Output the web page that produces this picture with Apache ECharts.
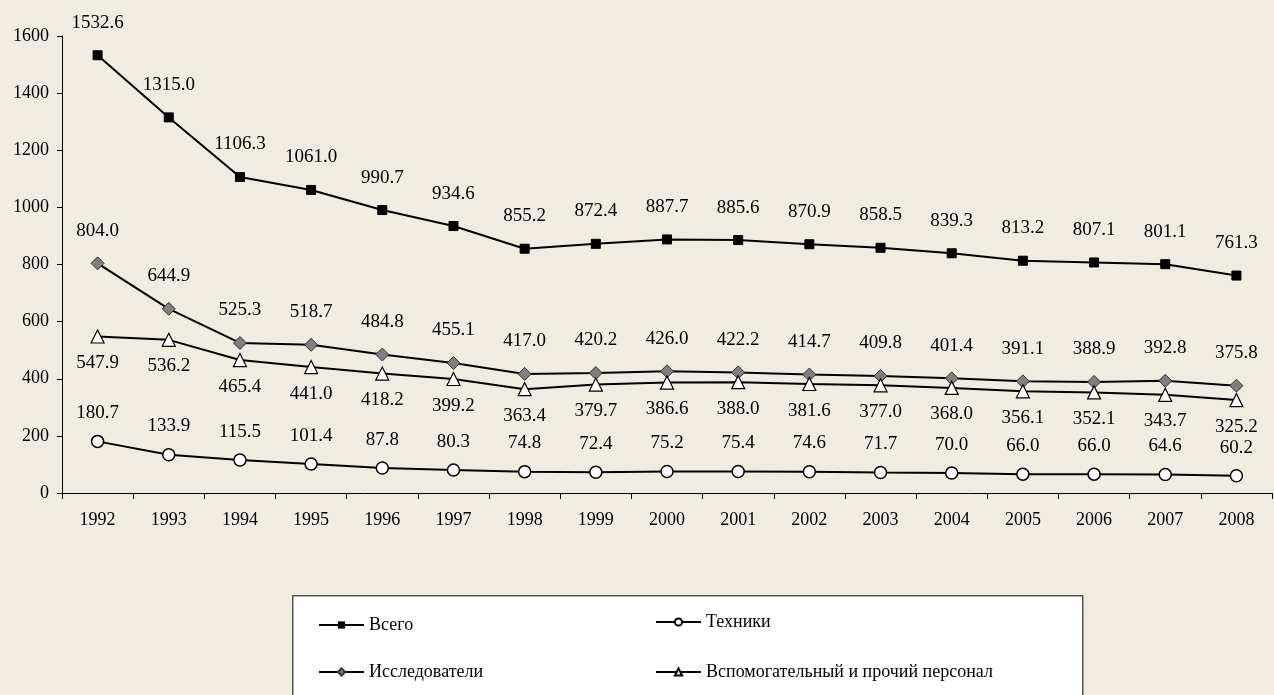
<!DOCTYPE html>
<html>
<head>
<meta charset="utf-8">
<script src="https://cdn.jsdelivr.net/npm/echarts@6/dist/echarts.min.js"></script>
<style>
html,body{margin:0;padding:0;background:#f1ece2;}
#c{width:1274px;height:695px;}
</style>
</head>
<body>
<div id="c"></div>
<script>
const years = ['1992','1993','1994','1995','1996','1997','1998','1999','2000','2001','2002','2003','2004','2005','2006','2007','2008'];
const total = [1532.6,1315.0,1106.3,1061.0,990.7,934.6,855.2,872.4,887.7,885.6,870.9,858.5,839.3,813.2,807.1,801.1,761.3];
const researchers = [804.0,644.9,525.3,518.7,484.8,455.1,417.0,420.2,426.0,422.2,414.7,409.8,401.4,391.1,388.9,392.8,375.8];
const technicians = [180.7,133.9,115.5,101.4,87.8,80.3,74.8,72.4,75.2,75.4,74.6,71.7,70.0,66.0,66.0,64.6,60.2];
const support = [547.9,536.2,465.4,441.0,418.2,399.2,363.4,379.7,386.6,388.0,381.6,377.0,368.0,356.1,352.1,343.7,325.2];
const yTicks = [0,200,400,600,800,1000,1200,1400,1600];

const FONT = 'Liberation Serif';
const chart = echarts.init(document.getElementById('c'));
const fmt = p => p.value.toFixed(1);
function lbl(pos, dist){
  return {show:true, position:pos, distance:dist, formatter:fmt, color:'#000', fontFamily:FONT, fontSize:19};
}
const lineStyle = {color:'#000', width:2};
chart.setOption({
  backgroundColor:'#f1ece2',
  animation:false,
  grid:{left:62, right:2, top:36, bottom:202, containLabel:false, outerBoundsMode:'none'},
  xAxis:{
    type:'category', data:years, boundaryGap:true,
    axisLine:{lineStyle:{color:'#000', width:1}},
    axisTick:{show:true, length:6, lineStyle:{color:'#000'}},
    axisLabel:{color:'#000', fontFamily:FONT, fontSize:18, margin:18}
  },
  yAxis:{
    type:'value', min:yTicks[0], max:yTicks[yTicks.length-1], interval:200,
    splitLine:{show:false},
    axisLine:{show:true, lineStyle:{color:'#000', width:1}},
    axisTick:{show:true, length:5, lineStyle:{color:'#000'}},
    axisLabel:{color:'#000', fontFamily:FONT, fontSize:18, margin:13, formatter: v => String(v)}
  },
  graphic:[{
    type:'rect', left:292, top:595, z:-1,
    shape:{width:790, height:130},
    style:{fill:'#fff', stroke:'#555', lineWidth:1.5}
  }],
  legend:[{
    data:['Всего','Исследователи'], orient:'vertical', left:318, top:615, padding:0,
    itemWidth:45, itemHeight:9, itemGap:27,
    textStyle:{color:'#000', fontFamily:FONT, fontSize:18, lineHeight:20}
  },{
    data:['Техники','Вспомогательный и прочий персонал'], orient:'vertical', left:655, top:612, padding:0,
    itemWidth:45, itemHeight:9, itemGap:30,
    textStyle:{color:'#000', fontFamily:FONT, fontSize:18, lineHeight:20}
  }],
  series:[
    {name:'Всего', type:'line', data:total, symbol:'rect', symbolSize:9,
      itemStyle:{color:'#000', borderColor:'#000'}, lineStyle:lineStyle, label:lbl('top',18)},
    {name:'Исследователи', type:'line', data:researchers, symbol:'diamond', symbolSize:13,
      itemStyle:{color:'#7f7f7f', borderColor:'#333', borderWidth:1}, lineStyle:lineStyle, label:lbl('top',16)},
    {name:'Техники', type:'line', data:technicians, symbol:'circle', symbolSize:12,
      itemStyle:{color:'#fff', borderColor:'#000', borderWidth:1.5}, lineStyle:lineStyle, label:lbl('top',12)},
    {name:'Вспомогательный и прочий персонал', type:'line', data:support, symbol:'triangle', symbolSize:13,
      itemStyle:{color:'#fff', borderColor:'#000', borderWidth:1.2}, lineStyle:lineStyle, label:lbl('bottom',10)}
  ]
});
</script>
</body>
</html>
